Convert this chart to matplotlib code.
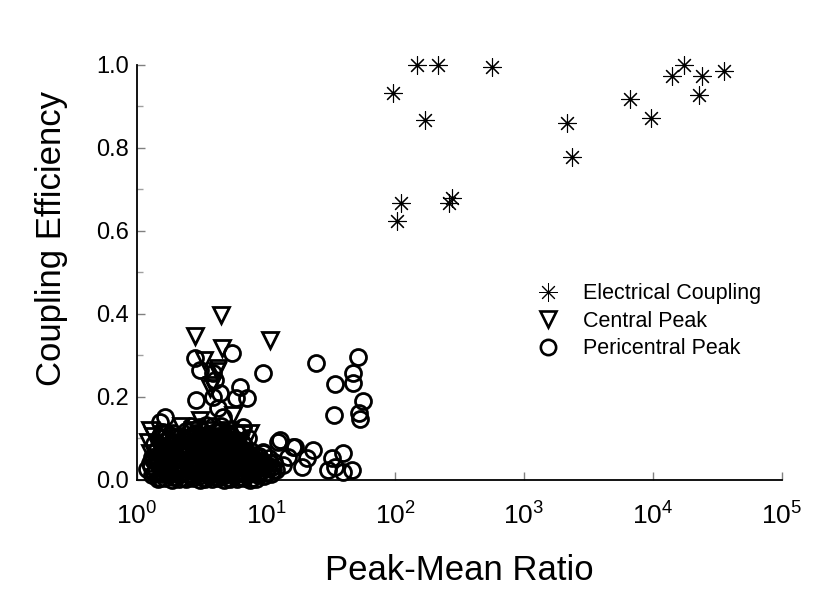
import matplotlib
matplotlib.use("Agg")
import matplotlib.pyplot as plt
from matplotlib.lines import Line2D

plt.rcParams['font.family'] = ['Liberation Sans', 'DejaVu Sans']
plt.rcParams['mathtext.fontset'] = 'custom'
plt.rcParams['mathtext.rm'] = 'Liberation Sans'
plt.rcParams['mathtext.it'] = 'Liberation Sans'

# electrical coupling
star_x = [96, 104, 111, 147, 171, 217, 275, 262, 562, 2170, 2370, 6640,
          9600, 13960, 17500, 24100, 22900, 35700]
star_y = [0.932, 0.624, 0.667, 1.0, 0.867, 1.0, 0.679, 0.667, 0.994, 0.861,
          0.779, 0.917, 0.872, 0.974, 1.0, 0.974, 0.928, 0.986]

# central peak
tri_x = [4.48, 2.82, 10.7, 4.56, 3.3, 4.24, 3.81, 5.55, 3.08, 7.5, 4.17, 3.68,
         1.25, 1.22, 1.25, 1.32, 1.45, 1.6, 2.0, 2.3, 2.7, 3.1, 3.5, 3.9, 4.3,
         4.8, 5.3, 6.0, 6.6, 7.2, 1.8, 2.5, 3.3, 4.6, 5.8, 8.5, 1.4, 2.1, 3.0,
         4.0, 2.2, 5.0, 6.3, 1.55, 2.9]
tri_y = [0.398, 0.347, 0.337, 0.318, 0.289, 0.27, 0.229, 0.157, 0.145, 0.113,
         0.262, 0.222, 0.12, 0.092, 0.065, 0.105, 0.08, 0.11, 0.1, 0.075, 0.12,
         0.09, 0.12, 0.06, 0.1, 0.085, 0.12, 0.07, 0.11, 0.05, 0.05, 0.04,
         0.03, 0.035, 0.025, 0.03, 0.03, 0.02, 0.015, 0.02, 0.13, 0.105, 0.09,
         0.045, 0.06]

# pericentral peak
circ_x = [2.8, 3.08, 5.45, 9.47, 2.87, 3.88, 6.28, 5.85, 7.1, 3.88, 4.0, 4.25,
          1.65, 4.6, 6.6, 12.8, 16.2, 51.7, 24.4, 47, 34.3, 47, 56.5, 33.6,
          52.5, 53.5, 12.4, 16.8, 23.1, 20.8, 19, 39.5, 32.5, 34.3, 30.2, 39.5,
          46.4, 14.8, 13.5, 11.3, 9.5, 10.8, 4.4, 1.5,
          1.3, 1.5, 1.7, 1.9, 2.1, 2.4, 2.7, 3.0, 3.3, 3.7, 4.1, 4.6, 5.1,
          5.7, 6.3, 7.0, 7.8, 8.7, 9.7, 11.0,
          1.2, 1.4, 1.6, 1.8, 2.0, 2.3, 2.6, 2.9, 3.2, 3.6, 4.0, 4.4, 4.9,
          5.4, 6.0, 6.7, 7.5, 8.3, 9.2, 10.3, 12.0,
          1.25, 1.45, 1.7, 1.95, 2.2, 2.5, 2.8, 3.1, 3.5, 3.9, 4.3, 4.8, 5.3,
          5.9, 6.6, 7.3, 8.1, 9.0, 10.0, 11.5,
          1.3, 1.55, 1.8, 2.05, 2.35, 2.65, 3.0, 3.4, 3.8, 4.2, 4.7, 5.2, 5.8,
          6.4, 7.1, 7.9, 8.8, 10.5,
          1.4, 1.65, 1.9, 2.2, 2.5, 2.85, 3.2, 3.6, 4.05, 4.5, 5.0, 5.6, 6.2,
          6.9, 7.7, 9.5,
          1.35, 1.6, 1.85, 2.15, 2.45, 2.75, 3.1, 3.5, 3.9, 4.4, 4.9, 5.5,
          6.1, 6.8,
          1.5, 1.75, 2.0, 2.3, 2.6, 2.95, 3.3, 3.7, 4.2, 4.7, 5.3, 6.0, 7.2,
          1.6, 1.9, 2.4, 2.8, 3.2, 3.6, 4.0, 4.5, 5.1, 5.8,
          2.6, 3.0, 3.4, 3.9, 4.5,
          1.35, 1.55, 1.75, 2.0, 2.25, 2.55, 2.85, 3.15, 3.45, 3.85, 4.25,
          4.75, 5.25, 5.8, 6.45, 7.2, 8.0, 8.9, 10.0,
          1.28, 1.5, 1.72, 1.98, 2.28, 2.58, 2.92, 3.28, 3.68, 4.12, 4.58,
          5.08, 5.62, 6.2, 6.9, 7.6, 8.5, 9.6, 11.2,
          1.42, 1.68, 1.95, 2.28, 2.62, 3.0, 3.42, 3.9, 4.38, 4.95, 5.55,
          6.25, 7.0, 7.9, 9.0,
          1.5, 1.8, 2.1, 2.45, 2.8, 3.2, 3.6, 4.1, 4.65, 5.2, 5.9, 6.6, 7.4,
          1.58, 1.85, 2.15, 2.5, 2.9, 3.35, 3.8, 4.3, 4.85, 5.45, 6.1,
          1.7, 2.05, 2.45, 2.9, 3.35, 3.85, 4.4, 5.0, 5.6,
          1.8, 2.2, 2.7, 3.1, 3.55, 4.05, 4.7, 5.3,
          1.45, 1.65, 1.88, 2.12, 2.4, 2.7, 3.05, 3.38, 3.78, 4.22, 4.7,
          5.3, 5.95, 6.7, 7.5, 8.4,
          1.33, 1.62, 1.92, 2.25, 2.6, 2.95, 3.35, 3.75, 4.2, 4.7, 5.25,
          5.85, 6.55, 7.35, 8.2, 9.3]
circ_y = [0.294, 0.265, 0.306, 0.258, 0.193, 0.2, 0.224, 0.198, 0.198, 0.258,
          0.241, 0.173, 0.152, 0.152, 0.128, 0.096, 0.08, 0.296, 0.282, 0.258,
          0.231, 0.234, 0.19, 0.157, 0.161, 0.147, 0.092, 0.08, 0.072, 0.053,
          0.031, 0.065, 0.053, 0.031, 0.024, 0.019, 0.024, 0.055, 0.036,
          0.024, 0.067, 0.041, 0.21, 0.14,
          0.012, 0.006, 0.014, 0.008, 0.011, 0.005, 0.013, 0.009, 0.006,
          0.012, 0.007, 0.01, 0.005, 0.013, 0.008, 0.011, 0.006, 0.012,
          0.009, 0.014,
          0.026, 0.022, 0.028, 0.024, 0.021, 0.027, 0.023, 0.029, 0.025,
          0.02, 0.026, 0.022, 0.028, 0.024, 0.021, 0.027, 0.023, 0.026,
          0.022, 0.028, 0.025,
          0.041, 0.038, 0.043, 0.037, 0.04, 0.044, 0.039, 0.042, 0.036,
          0.041, 0.045, 0.038, 0.042, 0.04, 0.037, 0.043, 0.039, 0.041,
          0.038, 0.044,
          0.056, 0.053, 0.058, 0.054, 0.057, 0.052, 0.059, 0.055, 0.053,
          0.058, 0.054, 0.056, 0.052, 0.057, 0.055, 0.053, 0.058, 0.054,
          0.071, 0.068, 0.073, 0.069, 0.072, 0.067, 0.074, 0.07, 0.068,
          0.073, 0.069, 0.071, 0.067, 0.072, 0.07, 0.066,
          0.086, 0.083, 0.088, 0.084, 0.087, 0.082, 0.089, 0.085, 0.083,
          0.087, 0.084, 0.086, 0.082, 0.085,
          0.101, 0.098, 0.103, 0.099, 0.102, 0.097, 0.1, 0.104, 0.098, 0.101,
          0.099, 0.097, 0.1,
          0.116, 0.113, 0.118, 0.114, 0.117, 0.112, 0.115, 0.118, 0.113,
          0.116,
          0.13, 0.128, 0.132, 0.129, 0.131,
          0.018, 0.015, 0.019, 0.016, 0.017, 0.014, 0.018, 0.016, 0.019,
          0.015, 0.017, 0.016, 0.018, 0.015, 0.017, 0.019, 0.016, 0.018,
          0.017,
          0.033, 0.031, 0.034, 0.032, 0.035, 0.03, 0.033, 0.031, 0.034,
          0.032, 0.035, 0.03, 0.033, 0.031, 0.034, 0.032, 0.03, 0.033,
          0.031,
          0.048, 0.046, 0.049, 0.047, 0.05, 0.045, 0.048, 0.046, 0.049,
          0.047, 0.05, 0.046, 0.048, 0.047, 0.045,
          0.063, 0.061, 0.064, 0.062, 0.065, 0.06, 0.063, 0.061, 0.064,
          0.062, 0.06, 0.063, 0.061,
          0.078, 0.076, 0.079, 0.077, 0.08, 0.075, 0.078, 0.076, 0.079,
          0.077, 0.075,
          0.093, 0.091, 0.094, 0.092, 0.095, 0.09, 0.093, 0.091, 0.094,
          0.108, 0.106, 0.109, 0.107, 0.11, 0.105, 0.108, 0.106,
          0.002, 0.004, 0.001, 0.003, 0.002, 0.004, 0.001, 0.003, 0.002,
          0.004, 0.001, 0.003, 0.002, 0.004, 0.001, 0.003,
          0.047, 0.062, 0.033, 0.075, 0.052, 0.068, 0.044, 0.078, 0.058,
          0.036, 0.065, 0.049, 0.072, 0.04, 0.061, 0.045]

fig = plt.figure(figsize=(8.28, 6.04), dpi=100)
ax = fig.add_axes([0.1655, 0.2053, 0.7789, 0.6871])

mk = dict(linestyle='none', color='black', mfc='none', clip_on=False)
ax.plot(tri_x, tri_y, marker='v', ms=11, mew=2.0, **mk)
ax.plot(circ_x, circ_y, marker='o', ms=11.5, mew=2.0, **mk)
ax.plot(star_x, star_y, marker=(8, 2, 0), ms=13, mew=0.8, **mk)

ax.set_xscale('log')
ax.set_xlim(1, 1e5)
ax.set_ylim(0, 1.0)
ax.set_yticks([0, 0.2, 0.4, 0.6, 0.8, 1.0])
ax.set_yticks([0.1, 0.3, 0.5, 0.7, 0.9], minor=True)
ax.set_xticks([1, 10, 100, 1000, 10000, 100000])
ax.xaxis.set_minor_locator(matplotlib.ticker.NullLocator())
ax.yaxis.set_major_formatter(matplotlib.ticker.FormatStrFormatter('%.1f'))

for s in ['top', 'right']:
    ax.spines[s].set_visible(False)
for s in ['left', 'bottom']:
    ax.spines[s].set_linewidth(1.3)
ax.tick_params(which='major', direction='in', length=6, width=1,
               color='#808080', labelsize=17, pad=6)
ax.tick_params(axis='x', which='major', labelsize=19, pad=16)
ax.tick_params(which='minor', direction='in', length=4, width=1,
               color='#a0a0a0')

ax.set_xlabel('Peak-Mean Ratio', fontsize=25, labelpad=18)
ax.set_ylabel('Coupling Efficiency', fontsize=25)
ax.yaxis.set_label_coords(-0.107, 0.583)

handles = [
    Line2D([], [], marker=(8, 2, 0), ms=13, mew=0.7, **mk),
    Line2D([], [], marker='v', ms=11, mew=1.9, **mk),
    Line2D([], [], marker='o', ms=11, mew=1.9, **mk),
]
labels = ['Electrical Coupling', 'Central Peak', 'Pericentral Peak']
ax.legend(handles, labels, loc='upper left', bbox_to_anchor=(0.6, 0.5),
          frameon=False, fontsize=15.5, handlelength=1.2, handletextpad=1.05,
          labelspacing=0.3, borderpad=0)

fig.savefig('out.png', dpi=100)
